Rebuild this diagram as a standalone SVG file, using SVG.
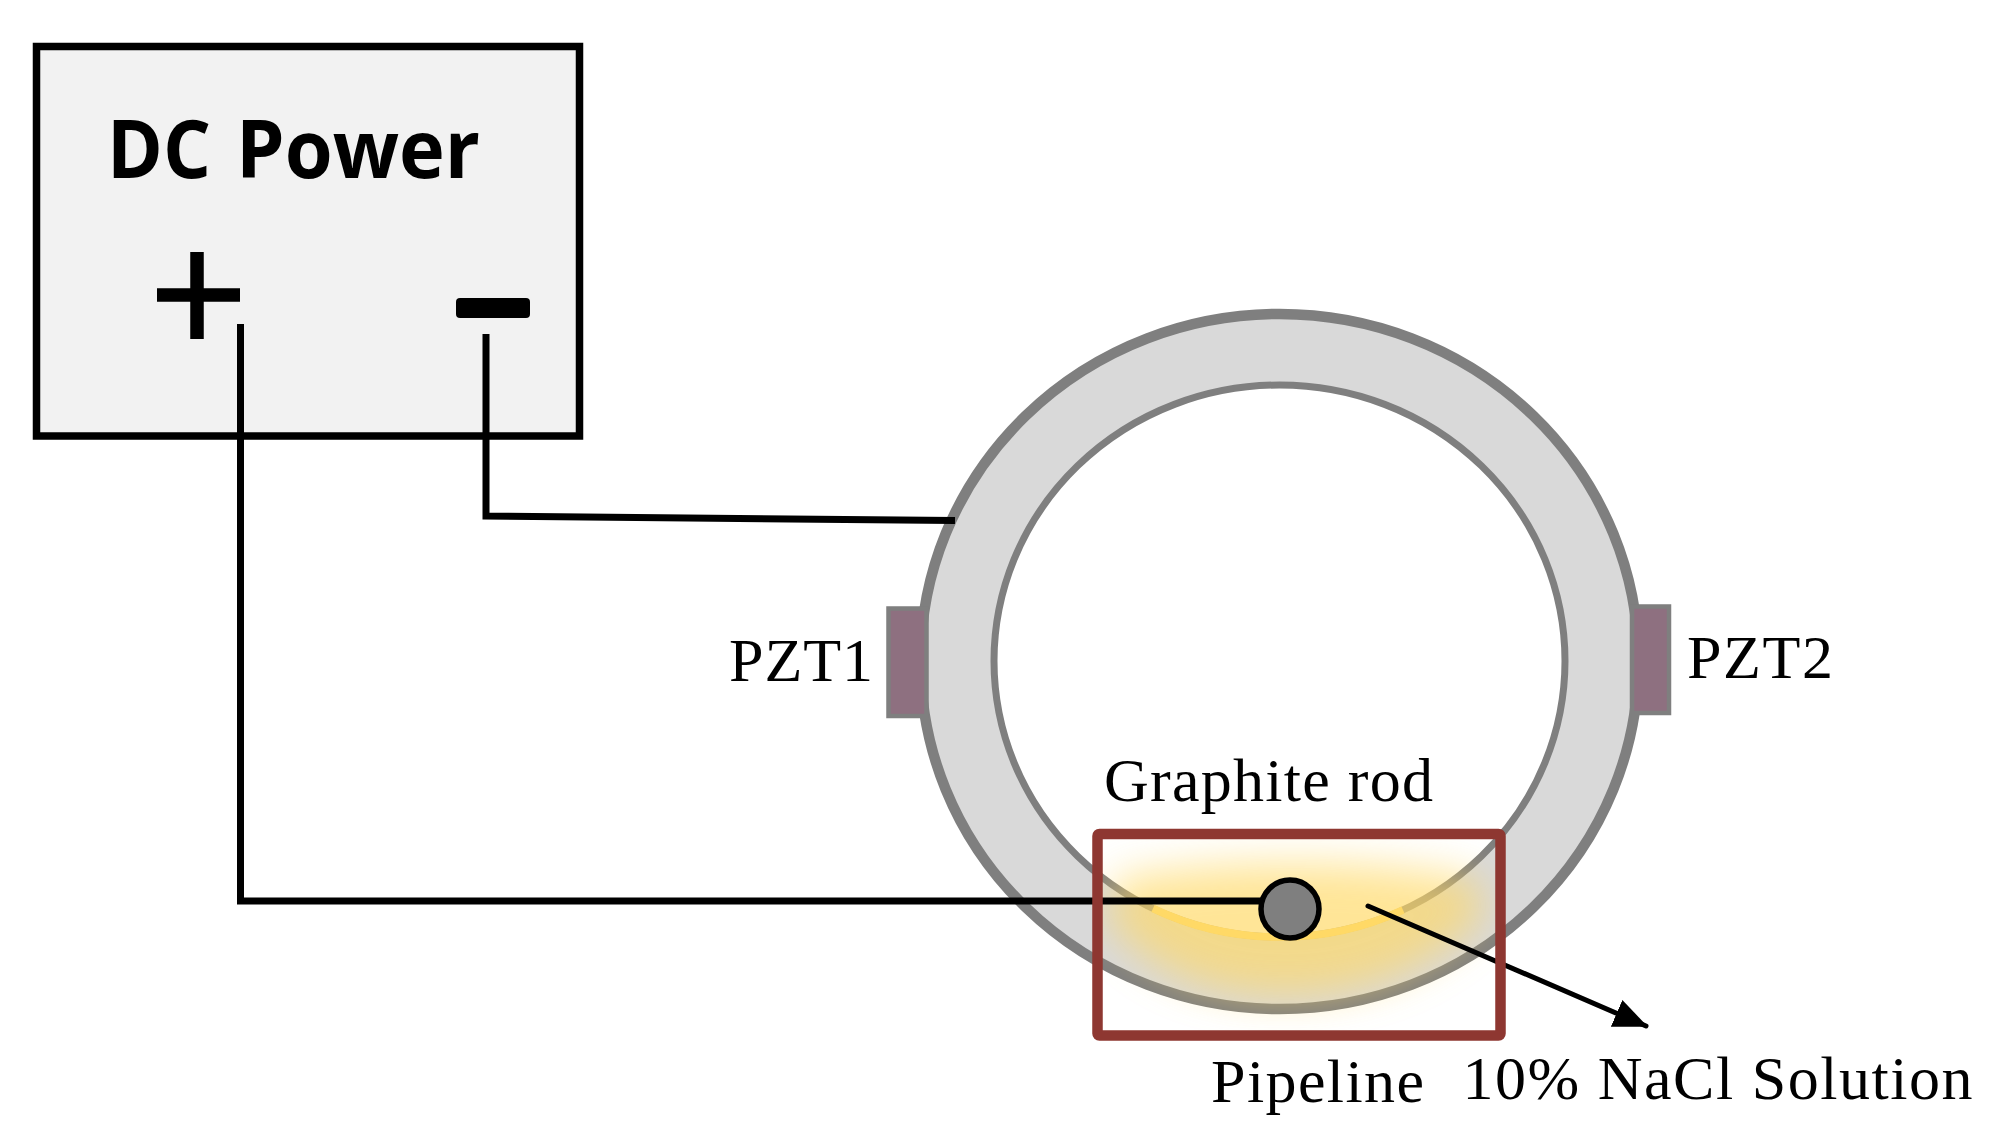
<svg xmlns="http://www.w3.org/2000/svg" width="2002" height="1135" viewBox="0 0 2002 1135">
<style>
.serif{font-family:"Liberation Serif","Times New Roman",serif;font-size:62px;fill:#000}
.wire{fill:none;stroke:#000;stroke-width:7;stroke-linejoin:miter}
.pzt{fill:#8e7080;stroke:#7f7f7f;stroke-width:4.5}
</style>
<defs>
<filter id="soft" x="-30%" y="-30%" width="160%" height="160%"><feGaussianBlur stdDeviation="20"/></filter>
<clipPath id="boxclip"><rect x="1097" y="834" width="404" height="201"/></clipPath>
<marker id="head" markerUnits="userSpaceOnUse" markerWidth="34" markerHeight="29" refX="32" refY="14.500" orient="auto"><path d="M0 0L34 14.500L0 29Z" fill="#000"/></marker>
</defs>
<rect width="2002" height="1135" fill="#fff"/>
<g id="pipeline">
<ellipse cx="1279.500" cy="661.500" rx="359" ry="347.500" fill="#d9d9d9" stroke="#7f7f7f" stroke-width="10.500"/>
<ellipse cx="1279.500" cy="661" rx="285.500" ry="276" fill="#fff" stroke="#7f7f7f" stroke-width="7"/>
<g clip-path="url(#boxclip)"><path d="M1120 878Q1290 848 1475 878L1485 915Q1405 996 1285 996Q1165 996 1105 915Z" fill="#ffd966" opacity=".68" filter="url(#soft)"/></g>
<path d="M1153 908.500A285.500 276 0 0 0 1403 910" fill="none" stroke="#ffd966" stroke-width="7.500"/>
<text class="serif" x="1211" y="1102" textLength="213">Pipeline</text>
</g>
<g id="pzt1"><rect class="pzt" x="888.500" y="608.500" width="38" height="107.500"/><text class="serif" x="729" y="681" textLength="144">PZT1</text></g>
<g id="pzt2"><rect class="pzt" x="1632" y="606.500" width="37" height="106.500"/><text class="serif" x="1687" y="678" textLength="146">PZT2</text></g>
<g id="dc-power">
<rect x="36.500" y="46.500" width="543" height="389.500" fill="#f2f2f2" stroke="#000" stroke-width="7.500"/>
<text y="178" font-family="Open Sans,Noto Sans,sans-serif" font-weight="700" font-size="80" fill="#000"><tspan x="107" textLength="104" lengthAdjust="spacingAndGlyphs">DC</tspan> <tspan x="236" textLength="244" lengthAdjust="spacingAndGlyphs">Power</tspan></text>
<path d="M157 295H240M197 252V339" stroke="#000" stroke-width="13.500" fill="none"/>
<rect x="456" y="298" width="74" height="20" rx="4" fill="#000"/>
</g>
<g id="connectors">
<path class="wire" d="M240.500 324V901H1270"/>
<path class="wire" d="M486 334V516L955 520.500"/>
<path d="M1368 906L1646 1026" fill="none" stroke="#000" stroke-width="5" stroke-linecap="round" marker-end="url(#head)"/>
</g>
<g id="graphite-rod"><circle cx="1290" cy="909" r="29" fill="#7f7f7f" stroke="#000" stroke-width="5.500"/><text class="serif" x="1104" y="801" textLength="329">Graphite rod</text></g>
<g id="solution-zone"><rect x="1097.500" y="834" width="403" height="201.500" rx="2" fill="none" stroke="#8e3731" stroke-width="10.500" stroke-linejoin="round"/><text class="serif" x="1462.500" y="1099" textLength="510">10% NaCl Solution</text></g>
</svg>
